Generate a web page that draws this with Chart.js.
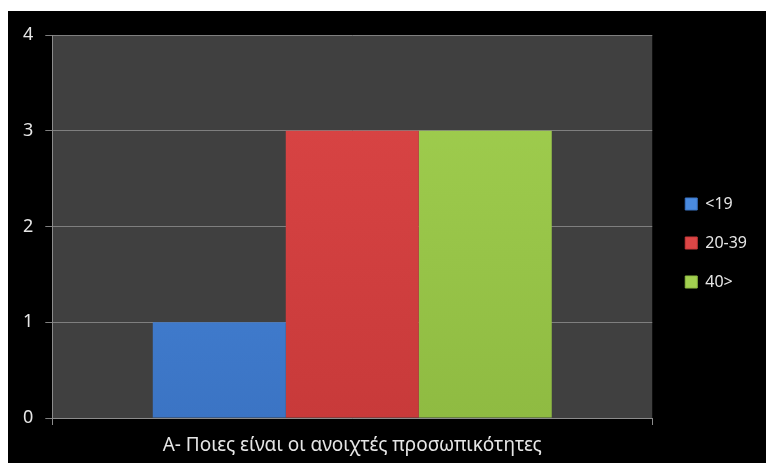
<!DOCTYPE html>
<html>
<head>
<meta charset="utf-8">
<script src="https://cdn.jsdelivr.net/npm/chart.js@4.4.0/dist/chart.umd.min.js"></script>
<style>
  html, body { margin: 0; padding: 0; background: #ffffff; }
  #wrap { position: absolute; left: 8px; top: 11px; width: 758px; height: 452px; background: #000000; }
</style>
</head>
<body>
<div id="wrap"><canvas id="ageChart" width="758" height="452"></canvas></div>
<script>
// Chart data
const categories = ['A- Ποιες είναι οι ανοιχτές προσωπικότητες'];
const seriesNames = ['<19', '20-39', '40>'];
const seriesValues = [[1], [3], [3]];
const yTicks = [0, 1, 2, 3, 4];

// Bar colours (top, bottom) for a soft gradient
const BAR_COLORS = [
  ['#4a8be0', '#3b74c4'],
  ['#dc4646', '#c83a3a'],
  ['#a2d050', '#8fbb42']
];

// Extra offset for the legend items
const LEGEND_SHIFT = 10;
const LEGEND_SHIFT_Y = -6;

/**
 * Vertical gradient for a bar, spanning the chart area
 */
function barGradient(ctx, idx) {
  const area = ctx.chart.chartArea;
  if (!area) return BAR_COLORS[idx][0];
  const g = ctx.chart.ctx.createLinearGradient(0, area.top, 0, area.bottom);
  g.addColorStop(0, BAR_COLORS[idx][0]);
  g.addColorStop(1, BAR_COLORS[idx][1]);
  return g;
}

// Fill the plot area grey
const plotBackground = {
  id: 'plotBackground',
  beforeDraw(chart) {
    const { ctx, chartArea } = chart;
    ctx.save();
    ctx.fillStyle = '#404040';
    ctx.fillRect(chartArea.left, chartArea.top, chartArea.right - chartArea.left, chartArea.bottom - chartArea.top);
    ctx.restore();
  }
};

// Widen the legend box and push its items right
const legendShift = {
  id: 'legendShift',
  afterInit(chart) {
    const legend = chart.legend;
    if (!legend) return;
    const fit = legend.fit;
    legend.fit = function () {
      fit.call(this);
      this.width += LEGEND_SHIFT;
    };
    const draw = legend.draw;
    legend.draw = function () {
      const c = this.ctx;
      c.save();
      c.translate(LEGEND_SHIFT, LEGEND_SHIFT_Y);
      draw.call(this);
      c.restore();
    };
  }
};

const FONT = "'Noto Sans', sans-serif";

const chart = new Chart(document.getElementById('ageChart').getContext('2d'), {
  type: 'bar',
  data: {
    labels: categories,
    datasets: seriesNames.map((name, i) => ({
      label: name,
      data: seriesValues[i],
      backgroundColor: ctx => barGradient(ctx, i),
      borderColor: BAR_COLORS[i][1],
      borderWidth: 0,
      categoryPercentage: 0.665,
      barPercentage: 1.0
    }))
  },
  options: {
    responsive: false,
    animation: false,
    layout: {
      padding: { top: 24, left: 3, right: 9, bottom: 0 }
    },
    plugins: {
      tooltip: { enabled: false },
      legend: {
        position: 'right',
        align: 'center',
        labels: {
          color: '#e6e6e6',
          font: { family: FONT, size: 16 },
          boxWidth: 12,
          boxHeight: 12,
          padding: 23,
          generateLabels(chart) {
            return chart.data.datasets.map((ds, i) => ({
              text: ds.label,
              fillStyle: BAR_COLORS[i][0],
              strokeStyle: BAR_COLORS[i][1],
              lineWidth: 1,
              fontColor: '#e6e6e6',
              datasetIndex: i
            }));
          }
        }
      }
    },
    scales: {
      x: {
        offset: true,
        afterFit(scale) {
          scale.height -= 3;
        },
        grid: {
          offset: true,
          drawOnChartArea: false,
          drawTicks: true,
          tickLength: 7,
          color: '#8c8c8c'
        },
        border: { color: '#8c8c8c', width: 1 },
        ticks: {
          color: '#e6e6e6',
          font: { family: FONT, size: 19, lineHeight: 1.0 },
          padding: 11
        }
      },
      y: {
        min: 0,
        max: 4,
        afterBuildTicks(axis) {
          axis.ticks = yTicks.map(v => ({ value: v }));
        },
        grid: {
          color: '#7f7f7f',
          tickLength: 7,
          drawTicks: true
        },
        border: { color: '#8c8c8c', width: 1 },
        ticks: {
          color: '#e6e6e6',
          font: { family: FONT, size: 18 },
          padding: 12
        }
      }
    }
  },
  plugins: [plotBackground, legendShift]
});
</script>
</body>
</html>
